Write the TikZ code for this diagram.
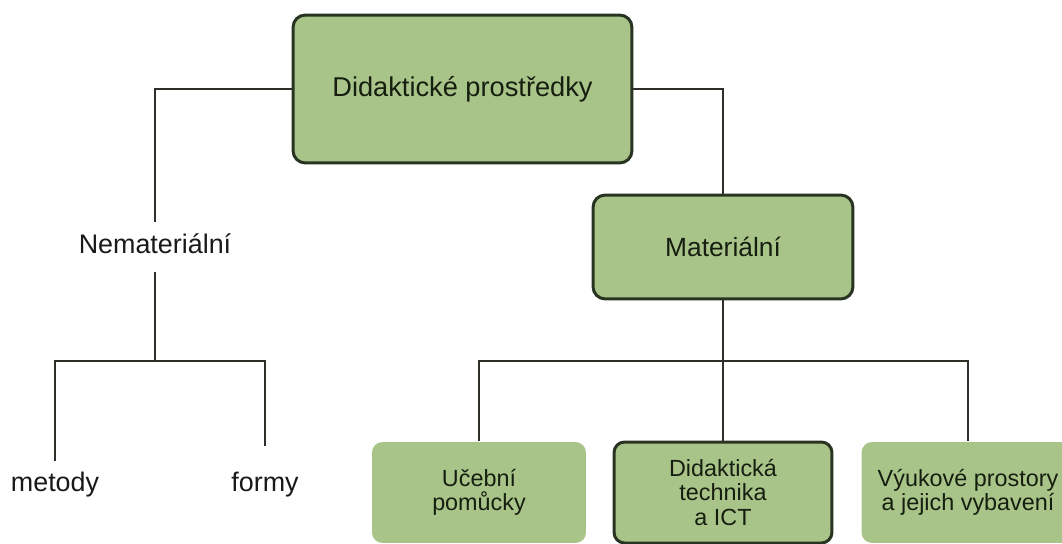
\documentclass[tikz,border=0pt]{standalone}
\usepackage{fontspec}
\setmainfont{Liberation Sans}
\definecolor{boxgreen}{RGB}{169,196,137}
\definecolor{boxline}{RGB}{40,52,33}
\definecolor{wirecol}{RGB}{45,47,40}
\definecolor{ink}{RGB}{22,30,16}

\begin{document}
\begin{tikzpicture}[x=0.02cm,y=-0.02cm,
		box/.style={rectangle,rounded corners=7pt,fill=boxgreen,draw=boxline,line width=1.7pt,inner sep=0pt,align=center,text=ink},
		flatbox/.style={box,draw=none,rounded corners=6pt,minimum height=2.02cm,font=\fontsize{13.3}{14}\selectfont},
		word/.style={inner sep=6pt,text depth=4.5pt,text=black!90,font=\fontsize{15.3}{18}\selectfont},
		wire/.style={draw=wirecol,line width=1.3pt}]
	\clip (0,0) rectangle (1062,544);
	% upper part
	\node[box,minimum width=6.78cm,minimum height=2.96cm,font=\fontsize{15.5}{18}\selectfont] (root) at (462.5,89) {Didaktické prostředky};
	\node[box,minimum width=5.2cm,minimum height=2.08cm,font=\fontsize{15}{18}\selectfont] (mat) at (723,247) {Materiální};
	\node[word,anchor=base] (nemat) at (155,253) {Nemateriální};
	% left branch
	\node[word,anchor=base] (metody) at (55,491) {metody};
	\node[word,anchor=base] (formy) at (265,491) {formy};
	% bottom boxes
	\node[flatbox,minimum width=4.28cm] (pomucky) at (479,492.5) {Učební\\pomůcky};
	\node[box,draw=boxline,rounded corners=6pt,minimum width=4.36cm,minimum height=2.02cm,font=\fontsize{13.3}{14}\selectfont] (technika) at (723,492.5) {Didaktická\\technika\\a ICT};
	\node[flatbox,minimum width=4.26cm] (prostory) at (968,492.5) {Výukové prostory\\a jejich vybavení};
	\coordinate (nsplit) at (155,361);
	\coordinate (msplit) at (723,361);
	\path[wire]
		(root.west) -| (nemat.north)
		(root.east) -| (mat.north)
		(nemat.south) -- (nsplit)
		(mat.south) -- (msplit)
		(msplit) -- (technika.north)
		(msplit) -| (pomucky.north)
		(msplit) -| (prostory.north);
	\path[wire,shorten >=0.3cm]
		(nsplit) -| (metody.north)
		(nsplit) -| (formy.north);
\end{tikzpicture}
\end{document}
